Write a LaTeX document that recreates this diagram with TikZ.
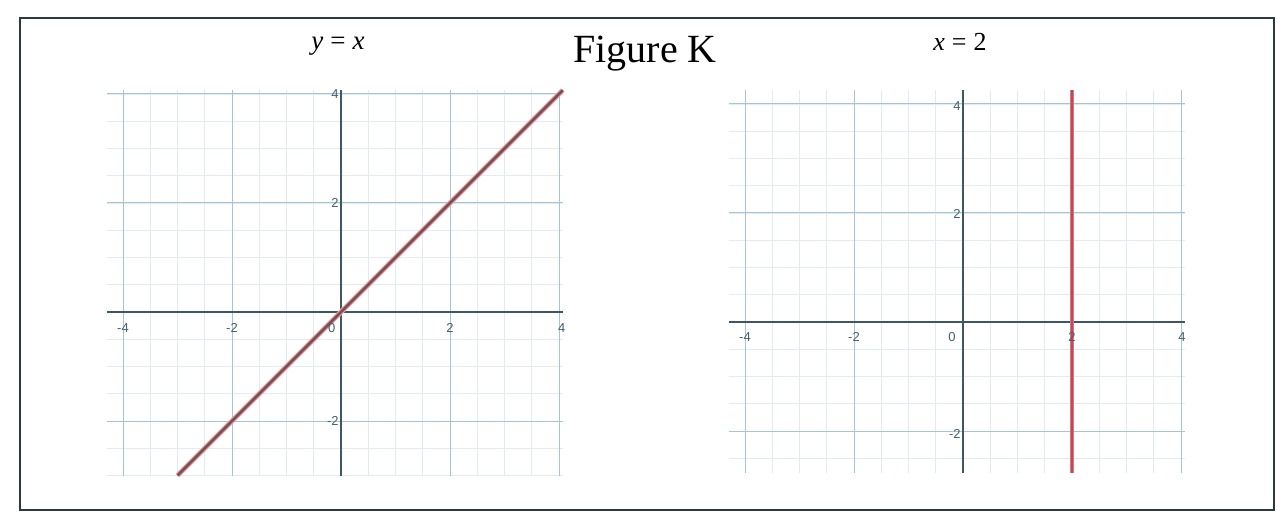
\documentclass[tikz,border=0pt]{standalone}
\usepackage{fontspec}
\setmainfont{Liberation Serif}
\newfontfamily\ticksf{Liberation Sans}
\definecolor{minorgrid}{HTML}{E0ECF2}
\definecolor{majorgrid}{HTML}{A6C4D2}
\definecolor{axiscol}{HTML}{3E5862}
\definecolor{framecol}{HTML}{2C3A40}
\definecolor{ticklab}{HTML}{45616E}
\definecolor{halo}{HTML}{EBA5A8}
\definecolor{diagline}{HTML}{7A4E55}
\definecolor{vline}{HTML}{E27482}
\definecolor{vcore}{HTML}{B84C5C}
\tikzset{
  minorg/.style={draw=minorgrid, line width=0.8pt},
  majorg/.style={draw=majorgrid, line width=1pt},
  axisline/.style={draw=axiscol, line width=2.8pt},
  ticklabel/.style={font=\ticksf\fontsize{13}{14}\selectfont, text=ticklab, inner sep=0pt},
  titletext/.style={inner sep=0pt, text=black}
}
\begin{document}
\begin{tikzpicture}[x=1pt,y=-1pt]
\useasboundingbox (0,0) rectangle (1288,521);
\fill[white] (0,0) rectangle (1288,521);
% frame
\draw[draw=framecol, line width=2.4pt] (20,18) rectangle (1274,510);
% titles
\node[titletext, font=\fontsize{40}{44}\selectfont, anchor=base] (figk) at (645,63) {Figure K};
\node[titletext, font=\fontsize{27}{28}\selectfont, anchor=base] (tleft) at (338,50) {\textit{y}\hspace{7pt}=\hspace{7pt}\textit{x}};
\node[titletext, font=\fontsize{26}{28}\selectfont, anchor=base] (tright) at (960,51) {\textit{x}\hspace{7pt}=\hspace{7pt}2};
% left graph
\begin{scope}[shift={(341pt,-312pt)}, x=54.5pt, y=54.5pt]
  \draw[minorg, step=0.5] (-4.29,-3) grid (4.07,4.07);
  \draw[majorg, step=2] (-4.29,-3) grid (4.07,4.07);
  \draw[axisline] (-4.29,0) -- (4.07,0);
  \draw[axisline] (0,-3) -- (0,4.07);
  \coordinate (la) at (-3,-3);
  \coordinate (lb) at (4.07,4.07);
  \draw[halo, line width=5pt] (la) -- (lb);
  \draw[diagline, line width=2.6pt] (la) -- (lb);
  \node[ticklabel] (lxm4) at (-4,-0.29) {-4};
  \node[ticklabel] (lxm2) at (-2,-0.29) {-2};
  \node[ticklabel] (lx0) at (-0.17,-0.29) {0};
  \node[ticklabel] (lx2) at (2,-0.29) {2};
  \node[ticklabel] (lx4) at (4.05,-0.29) {4};
  \node[ticklabel, anchor=east] (ly4) at (-0.04,4) {4};
  \node[ticklabel, anchor=east] (ly2) at (-0.04,2) {2};
  \node[ticklabel, anchor=east] (lym2) at (-0.04,-2) {-2};
\end{scope}
% right graph
\begin{scope}[shift={(963pt,-322pt)}, x=54.5pt, y=54.5pt]
  \draw[minorg, step=0.5] (-4.3,-2.77) grid (4.07,4.25);
  \draw[majorg, step=2] (-4.3,-2.77) grid (4.07,4.25);
  \draw[axisline] (-4.3,0) -- (4.07,0);
  \draw[axisline] (0,-2.77) -- (0,4.25);
  \coordinate (ra) at (2,-2.77);
  \coordinate (rb) at (2,4.25);
  \draw[vline, line width=4pt] (ra) -- (rb);
  \draw[vcore, line width=1.2pt] (ra) -- (rb);
  \node[ticklabel] (rxm4) at (-4,-0.28) {-4};
  \node[ticklabel] (rxm2) at (-2,-0.28) {-2};
  \node[ticklabel] (rx0) at (-0.2,-0.28) {0};
  \node[ticklabel] (rx2) at (2,-0.28) {2};
  \node[ticklabel] (rx4) at (4.02,-0.28) {4};
  \node[ticklabel, anchor=east] (ry4) at (-0.04,3.97) {4};
  \node[ticklabel, anchor=east] (ry2) at (-0.04,1.98) {2};
  \node[ticklabel, anchor=east] (rym2) at (-0.04,-2.05) {-2};
\end{scope}
\end{tikzpicture}
\end{document}
